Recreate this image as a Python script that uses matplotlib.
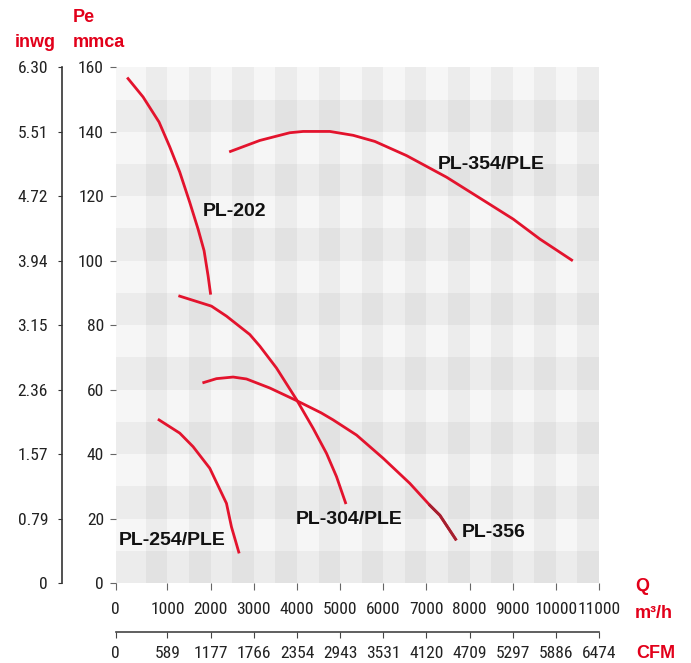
import os
import numpy as np
import matplotlib
matplotlib.use("Agg")
import matplotlib.pyplot as plt
from matplotlib import font_manager as fm
from matplotlib.font_manager import FontProperties
from matplotlib.colors import ListedColormap

# curves: Q (m3/h), Pe (mmca)
pl202_q = [86, 434, 805, 1053, 1284, 1516, 1709, 1848, 1941, 1996]
pl202_p = [156.5, 150.8, 143.0, 135.3, 127.5, 118.1, 109.8, 103.1, 95.3, 89.9]

pl354_q = [2460, 3139, 3835, 4143, 4762, 5303, 5806, 6541, 7468, 8396, 9012, 9631, 10366]
pl354_p = [133.9, 137.3, 139.7, 140.1, 140.1, 138.9, 137.0, 132.6, 125.9, 118.1, 112.9, 106.7, 100.2]

pl304_q = [1284, 2019, 2367, 2907, 3139, 3526, 3990, 4375, 4686, 4917, 5126]
pl304_p = [89.0, 85.9, 82.8, 77.1, 73.5, 66.7, 56.9, 48.0, 40.2, 33.0, 24.9]

pl356_q = [1841, 2135, 2521, 2831, 3371, 3990, 4560, 4839, 5381, 5998, 6617, 7081, 7313, 7677]
pl356_p = [62.2, 63.4, 63.9, 63.3, 60.5, 56.6, 52.8, 50.6, 45.9, 38.7, 30.9, 24.1, 21.0, 13.6]

pl254_q = [805, 1284, 1593, 1980, 2367, 2483, 2652]
pl254_p = [50.6, 46.5, 42.3, 35.6, 24.7, 17.4, 9.6]

# axis ticks
q_ticks = [-200, 1000, 2000, 3000, 4000, 5000, 6000, 7000, 8000, 9000, 10000, 11000]
q_labels = ["0", "1000", "2000", "3000", "4000", "5000", "6000", "7000", "8000",
            "9000", "10000", "11000"]
cfm_labels = ["0", "589", "1177", "1766", "2354", "2943", "3531", "4120", "4709",
              "5297", "5886", "6474"]
pe_ticks = [0, 20, 40, 60, 80, 100, 120, 140, 160]
inwg_labels = ["0", "0.79", "1.57", "2.36", "3.15", "3.94", "4.72", "5.51", "6.30"]

RED = "#e3132d"
DARK_RED = "#a3202f"
TITLE_RED = "#e2001a"
BOLD = ["Liberation Sans", "DejaVu Sans"]

# condensed face for the tick numbers, if one is installed
NARROW_FILES = ["liberationsansnarrow-regular", "robotocondensed-regular",
                "notosans-condensed.", "notosans-condensedregular",
                "opensans_condensed-regular", "opensans-condensedregular",
                "opensanscondensed-regular", "dejavusanscondensed."]


def narrow_font():
    paths = [f.fname for f in fm.fontManager.ttflist]
    try:
        paths += fm.findSystemFonts()
    except Exception:
        pass
    names = {os.path.basename(p).lower(): p for p in paths}
    for key in NARROW_FILES:
        for fn, p in names.items():
            if fn.startswith(key):
                return FontProperties(fname=p)
    return FontProperties(family="Liberation Sans")


W, H = 691, 663
fig = plt.figure(figsize=(W / 100, H / 100), dpi=100)

# size the tick font so four digits are ~34 px wide
tick_fp = narrow_font()
tick_fp.set_size(10)
probe = fig.text(0, 0, "0000", fontproperties=tick_fp)
pw = probe.get_window_extent(fig.canvas.get_renderer()).width
probe.remove()
tick_fp.set_size(10 * 34 / pw)

L, R, T, B = 115.7, 599, 67.3, 583
ax = fig.add_axes([L / W, 1 - B / H, (R - L) / W, (B - T) / H])

# — checkerboard background —
xe = np.r_[-200, np.arange(500, 11001, 500)]
ye = np.arange(0, 161, 10)
ci = np.arange(len(xe) - 1) % 2
ri = (np.arange(len(ye) - 1) + 1) % 2
shade = ri[:, None] + ci[None, :]
ax.pcolormesh(xe, ye, shade, cmap=ListedColormap(["#f6f6f6", "#ececec", "#e2e2e2"]),
              vmin=0, vmax=2, shading="flat", zorder=0)

# — curves —
ax.plot(pl202_q, pl202_p, color=RED, lw=2, zorder=3)
ax.plot(pl354_q, pl354_p, color=RED, lw=2, zorder=3)
ax.plot(pl304_q, pl304_p, color=RED, lw=2, zorder=3)
ax.plot(pl356_q, pl356_p, color=RED, lw=2, zorder=3)
ax.plot(pl356_q[-3:], pl356_p[-3:], color=DARK_RED, lw=2, zorder=4)
ax.plot(pl254_q, pl254_p, color=RED, lw=2, zorder=3)

lbl = dict(family=BOLD, fontweight="bold", fontsize=14, color="#111111",
           ha="left", va="baseline", zorder=5)
ax.text(1811, 114.0, "PL-202", **lbl)
ax.text(7273, 128.3, "PL-354/PLE", **lbl)
ax.text(3974, 18.4, "PL-304/PLE", **lbl)
ax.text(7816, 14.3, "PL-356", **lbl)
ax.text(-123, 11.7, "PL-254/PLE", **lbl)

ax.set_xlim(-200, 11000)
ax.set_ylim(0, 160)
for s in ax.spines.values():
    s.set_visible(False)
ax.set_xticks(q_ticks)
ax.set_xticklabels(q_labels, fontproperties=tick_fp, color="#222222")
ax.set_yticks(pe_ticks)
ax.set_yticklabels([str(v) for v in pe_ticks], fontproperties=tick_fp, color="#222222")
ax.tick_params(axis="x", direction="out", length=5, width=0.8, color="#666666", pad=9)
ax.tick_params(axis="y", direction="out", length=4.5, width=0.8, color="#666666", pad=4)

# — inwg axis (left) —
ax2 = fig.add_axes([62 / W, 1 - B / H, 0.001, (B - T) / H])
ax2.patch.set_visible(False)
for k in ["top", "right", "bottom"]:
    ax2.spines[k].set_visible(False)
ax2.spines["left"].set_color("#333333")
ax2.spines["left"].set_linewidth(1.2)
ax2.set_ylim(0, 160)
ax2.set_xticks([])
ax2.set_yticks(pe_ticks)
ax2.set_yticklabels(inwg_labels, fontproperties=tick_fp, color="#222222")
ax2.tick_params(axis="y", direction="out", length=3, width=0.8, color="#333333", pad=7)

# — CFM axis (bottom) —
ax3 = fig.add_axes([L / W, 1 - 632 / H, (R - L) / W, 0.001])
ax3.patch.set_visible(False)
for k in ["top", "right", "left"]:
    ax3.spines[k].set_visible(False)
ax3.spines["bottom"].set_color("#444444")
ax3.spines["bottom"].set_linewidth(1.2)
ax3.set_xlim(-200, 11000)
ax3.set_yticks([])
ax3.set_xticks(q_ticks)
ax3.set_xticklabels(cfm_labels, fontproperties=tick_fp, color="#222222")
ax3.tick_params(axis="x", direction="out", length=4, width=0.8, color="#444444", pad=6)

# — red titles —
tt = dict(family=BOLD, fontweight="bold", fontsize=13, color=TITLE_RED,
          ha="left", va="baseline")
fig.text(72.7 / W, 1 - 21.7 / H, "Pe", **tt)
fig.text(72.7 / W, 1 - 46.7 / H, "mmca", **tt)
fig.text(15 / W, 1 - 46.7 / H, "inwg", **tt)
fig.text(635 / W, 1 - 591 / H, "Q", **tt)
fig.text(635 / W, 1 - 618 / H, "m³/h", **tt)
fig.text(636 / W, 1 - 658 / H, "CFM", **tt)

plt.savefig("out.png", dpi=100)
plt.close(fig)
